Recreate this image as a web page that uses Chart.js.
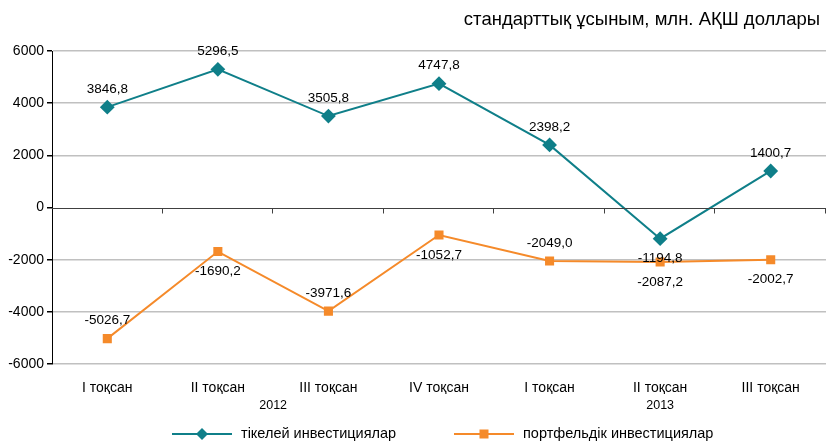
<!DOCTYPE html>
<html>
<head>
<meta charset="utf-8">
<script src="https://cdn.jsdelivr.net/npm/chart.js@4.4.1/dist/chart.umd.min.js"></script>
<style>
  html, body { margin: 0; padding: 0; background: #ffffff; }
  #wrap { width: 827px; height: 442px; }
</style>
</head>
<body>
<div id="wrap"><canvas id="c" width="827" height="442"></canvas></div>
<script>
// Quarterly flows, standard presentation
const quarters = ['I тоқсан', 'II тоқсан', 'III тоқсан', 'IV тоқсан', 'I тоқсан', 'II тоқсан', 'III тоқсан'];
const years = ['2012', '2013'];
const yearSpans = [[0, 3], [4, 6]];
const directInvestment = [3846.8, 5296.5, 3505.8, 4747.8, 2398.2, -1194.8, 1400.7];
const portfolioInvestment = [-5026.7, -1690.2, -3971.6, -1052.7, -2049.0, -2087.2, -2002.7];
// label placement per point: 'a' above, 'b' below
const directLabelPos = ['a', 'a', 'a', 'a', 'a', 'b', 'a'];
const portfolioLabelPos = ['a', 'b', 'a', 'b', 'a', 'b', 'b'];
const yTicks = [-6000, -4000, -2000, 0, 2000, 4000, 6000];
const seriesNames = ['тікелей инвестициялар', 'портфельдік инвестициялар'];
const unitText = 'стандарттық ұсыным, млн. АҚШ доллары';

const TEAL = '#0f7f89';
const ORANGE = '#f58a2a';
const FONT = '"Liberation Sans", Arial, sans-serif';

const fmt = v => v.toFixed(1).replace('.', ',');

const decorations = {
  id: 'decorations',
  afterDatasetsDraw(chart) {
    const ctx = chart.ctx;
    const xs = chart.scales.x, ys = chart.scales.y;
    const area = chart.chartArea;
    ctx.save();
    // zero line with category boundary ticks
    const y0 = Math.round(ys.getPixelForValue(0)) + 0.5;
    ctx.strokeStyle = '#404040';
    ctx.lineWidth = 1;
    ctx.beginPath();
    ctx.moveTo(area.left, y0);
    ctx.lineTo(area.right, y0);
    const step = (area.right - area.left) / quarters.length;
    for (let i = 1; i <= quarters.length; i++) {
      const x = Math.round(area.left + step * i) - 0.5;
      ctx.moveTo(x, y0);
      ctx.lineTo(x, y0 + 5);
    }
    ctx.stroke();

    // data labels
    ctx.fillStyle = '#000';
    ctx.font = '13.5px ' + FONT;
    ctx.textAlign = 'center';
    ctx.textBaseline = 'middle';
    const drawLabels = (dsIndex, values, pos) => {
      const meta = chart.getDatasetMeta(dsIndex);
      meta.data.forEach((pt, i) => {
        const dy = pos[i] === 'a' ? -18 : 20;
        ctx.fillText(fmt(values[i]), pt.x, pt.y + dy);
      });
    };
    drawLabels(0, directInvestment, directLabelPos);
    drawLabels(1, portfolioInvestment, portfolioLabelPos);

    // year labels under the quarter names
    ctx.font = '12.5px ' + FONT;
    yearSpans.forEach((span, k) => {
      const x = (xs.getPixelForValue(span[0]) + xs.getPixelForValue(span[1])) / 2;
      ctx.fillText(years[k], x, 406);
    });

    // unit caption
    ctx.font = '18.5px ' + FONT;
    ctx.textAlign = 'right';
    ctx.fillText(unitText, 820, 20);

    // legend
    const ly = 434;
    const legendItems = [
      { x: 172, color: TEAL, shape: 'diamond', text: seriesNames[0] },
      { x: 454, color: ORANGE, shape: 'square', text: seriesNames[1] }
    ];
    legendItems.forEach(it => {
      ctx.strokeStyle = it.color;
      ctx.lineWidth = 2;
      ctx.beginPath();
      ctx.moveTo(it.x, ly);
      ctx.lineTo(it.x + 60, ly);
      ctx.stroke();
      ctx.fillStyle = it.color;
      const cx = it.x + 30;
      if (it.shape === 'diamond') {
        ctx.beginPath();
        ctx.moveTo(cx, ly - 6);
        ctx.lineTo(cx + 6, ly);
        ctx.lineTo(cx, ly + 6);
        ctx.lineTo(cx - 6, ly);
        ctx.closePath();
        ctx.fill();
      } else {
        ctx.fillRect(cx - 4.5, ly - 4.5, 9, 9);
      }
      ctx.fillStyle = '#000';
      ctx.font = '14.5px ' + FONT;
      ctx.textAlign = 'left';
      ctx.fillText(it.text, it.x + 69, ly);
    });
    ctx.restore();
  }
};

new Chart(document.getElementById('c'), {
  type: 'line',
  data: {
    labels: quarters,
    datasets: [
      {
        label: seriesNames[0],
        data: directInvestment,
        borderColor: TEAL,
        backgroundColor: TEAL,
        borderWidth: 2,
        pointStyle: 'rectRot',
        pointRadius: 6,
        pointHoverRadius: 6,
        tension: 0,
        clip: false
      },
      {
        label: seriesNames[1],
        data: portfolioInvestment,
        borderColor: ORANGE,
        backgroundColor: ORANGE,
        borderWidth: 2,
        pointStyle: 'rect',
        pointRadius: 5,
        pointHoverRadius: 5,
        tension: 0,
        clip: false
      }
    ]
  },
  options: {
    responsive: false,
    animation: false,
    events: [],
    layout: { autoPadding: false, padding: { top: 51, right: 1, bottom: 48, left: 0 } },
    plugins: {
      legend: { display: false },
      tooltip: { enabled: false }
    },
    scales: {
      x: {
        offset: true,
        grid: { display: false },
        border: { display: false },
        ticks: { color: '#000', font: { family: FONT, size: 14 }, padding: 8, maxRotation: 0, autoSkip: false },
        afterFit(scale) {
          scale.height = 30;
          scale.paddingLeft = 0;
          scale.paddingRight = 0;
        }
      },
      y: {
        min: -6000,
        max: 6000,
        afterBuildTicks(scale) { scale.ticks = yTicks.map(v => ({ value: v })); },
        afterFit(scale) { scale.width = 52; },
        border: { display: true, color: '#000', width: 1 },
        grid: {
          color: ctx => ctx.tick && ctx.tick.value === 0 ? 'rgba(0,0,0,0)' : '#c0c0c0',
          lineWidth: 1.5,
          tickColor: '#000',
          tickLength: 5
        },
        ticks: { color: '#000', font: { family: FONT, size: 14 }, padding: 3, callback: v => String(v) }
      }
    }
  },
  plugins: [decorations]
});
</script>
</body>
</html>
